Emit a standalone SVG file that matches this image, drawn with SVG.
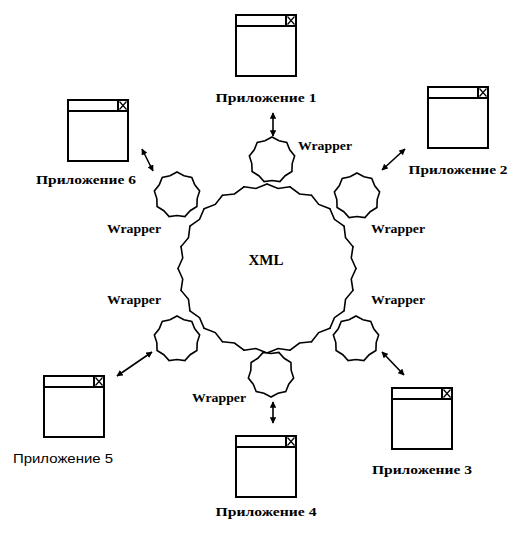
<svg xmlns="http://www.w3.org/2000/svg" xmlns:xlink="http://www.w3.org/1999/xlink" width="528" height="534" viewBox="0 0 528 534">
<style>
.win{fill:#fff;stroke:#000;stroke-width:2}
.thin{fill:none;stroke:#000;stroke-width:1.2}
.star{fill:#fff;stroke:#000;stroke-width:1.6;stroke-linejoin:miter}
.tooth{fill:none;stroke:#000;stroke-width:1.6;stroke-linecap:round;stroke-linejoin:miter}
.lbl{font-family:"Liberation Serif","Times New Roman",serif;font-weight:bold;font-size:13px;fill:#000;text-anchor:middle}
.lbl5{font-family:"Liberation Sans",Arial,sans-serif;font-size:13px;fill:#000;text-anchor:middle}
.conn{fill:none;stroke:#000;stroke-width:1.6;marker-start:url(#ah);marker-end:url(#ah)}
</style>
<defs>
<marker id="ah" viewBox="0 0 10 10" refX="9" refY="5" markerWidth="4" markerHeight="4" orient="auto-start-reverse" markerUnits="strokeWidth">
<path d="M0,0 L10,5 L0,10 z" fill="#000"/>
</marker>
<g id="window">
<rect class="win" x="0" y="0" width="60" height="61"/>
<line class="win" x1="0" y1="11" x2="60" y2="11"/>
<rect class="win" x="50" y="0" width="10" height="11"/>
<path class="thin" d="M51.5,1.5 L58.5,9.5 M58.5,1.5 L51.5,9.5"/>
</g>
<polygon id="wstar" class="star" points="0,-23 7.01,-19.26 14.78,-17.62 17.75,-10.25 22.65,-3.99 20.19,3.56 19.92,11.5 13.18,15.7 7.87,21.61 0,20.5 -7.87,21.61 -13.18,15.7 -19.92,11.5 -20.19,3.56 -22.65,-3.99 -17.75,-10.25 -14.78,-17.62 -7.01,-19.26"/>
<path id="tooth" class="tooth" d="M89,0 L84.27,11.09 L85.97,23.03"/>
</defs>

<g id="xml">
<g transform="translate(267,268.5) scale(1,0.95)">
<use xlink:href="#tooth" transform="rotate(0)"/>
<use xlink:href="#tooth" transform="rotate(15)"/>
<use xlink:href="#tooth" transform="rotate(30)"/>
<use xlink:href="#tooth" transform="rotate(45)"/>
<use xlink:href="#tooth" transform="rotate(60)"/>
<use xlink:href="#tooth" transform="rotate(75)"/>
<use xlink:href="#tooth" transform="rotate(90)"/>
<use xlink:href="#tooth" transform="rotate(105)"/>
<use xlink:href="#tooth" transform="rotate(120)"/>
<use xlink:href="#tooth" transform="rotate(135)"/>
<use xlink:href="#tooth" transform="rotate(150)"/>
<use xlink:href="#tooth" transform="rotate(165)"/>
<use xlink:href="#tooth" transform="rotate(180)"/>
<use xlink:href="#tooth" transform="rotate(195)"/>
<use xlink:href="#tooth" transform="rotate(210)"/>
<use xlink:href="#tooth" transform="rotate(225)"/>
<use xlink:href="#tooth" transform="rotate(240)"/>
<use xlink:href="#tooth" transform="rotate(255)"/>
<use xlink:href="#tooth" transform="rotate(270)"/>
<use xlink:href="#tooth" transform="rotate(285)"/>
<use xlink:href="#tooth" transform="rotate(300)"/>
<use xlink:href="#tooth" transform="rotate(315)"/>
<use xlink:href="#tooth" transform="rotate(330)"/>
<use xlink:href="#tooth" transform="rotate(345)"/>
</g>
<text class="lbl" x="266" y="265" style="font-size:15px" textLength="35" lengthAdjust="spacingAndGlyphs">XML</text>
</g>

<g id="wrapper1"><use xlink:href="#wstar" transform="translate(272,160)"/><text class="lbl" x="325" y="150" textLength="54" lengthAdjust="spacingAndGlyphs">Wrapper</text></g>
<g id="wrapper2"><use xlink:href="#wstar" transform="translate(357,196)"/><text class="lbl" x="398" y="233" textLength="54" lengthAdjust="spacingAndGlyphs">Wrapper</text></g>
<g id="wrapper3"><use xlink:href="#wstar" transform="translate(356,339)"/><text class="lbl" x="398" y="304" textLength="54" lengthAdjust="spacingAndGlyphs">Wrapper</text></g>
<g id="wrapper4"><use xlink:href="#wstar" transform="translate(271,374) rotate(180)"/><text class="lbl" x="219" y="402" textLength="54" lengthAdjust="spacingAndGlyphs">Wrapper</text></g>
<g id="wrapper5"><use xlink:href="#wstar" transform="translate(177,339)"/><text class="lbl" x="134" y="304" textLength="54" lengthAdjust="spacingAndGlyphs">Wrapper</text></g>
<g id="wrapper6"><use xlink:href="#wstar" transform="translate(177,195)"/><text class="lbl" x="134" y="233" textLength="54" lengthAdjust="spacingAndGlyphs">Wrapper</text></g>

<g id="app1"><use xlink:href="#window" transform="translate(236,15)"/><text class="lbl" x="266" y="102" textLength="101" lengthAdjust="spacingAndGlyphs">Приложение 1</text></g>
<g id="app2"><use xlink:href="#window" transform="translate(428,87)"/><text class="lbl" x="458" y="174" textLength="99" lengthAdjust="spacingAndGlyphs">Приложение 2</text></g>
<g id="app3"><use xlink:href="#window" transform="translate(392,388)"/><text class="lbl" x="422" y="474" textLength="100" lengthAdjust="spacingAndGlyphs">Приложение 3</text></g>
<g id="app4"><use xlink:href="#window" transform="translate(236,436)"/><text class="lbl" x="266" y="516" textLength="101" lengthAdjust="spacingAndGlyphs">Приложение 4</text></g>
<g id="app5"><use xlink:href="#window" transform="translate(44,376)"/><text class="lbl5" x="63" y="463" textLength="100" lengthAdjust="spacingAndGlyphs">Приложение 5</text></g>
<g id="app6"><use xlink:href="#window" transform="translate(68,100)"/><text class="lbl" x="86" y="184" textLength="100" lengthAdjust="spacingAndGlyphs">Приложение 6</text></g>

<g id="connectors">
<line class="conn" x1="273" y1="113" x2="273" y2="136"/>
<line class="conn" x1="382" y1="170" x2="405" y2="149"/>
<line class="conn" x1="382" y1="352" x2="404" y2="375"/>
<line class="conn" x1="273" y1="402" x2="273" y2="423"/>
<line class="conn" x1="117" y1="376" x2="152" y2="352"/>
<line class="conn" x1="142" y1="149" x2="153" y2="171"/>
</g>
</svg>
